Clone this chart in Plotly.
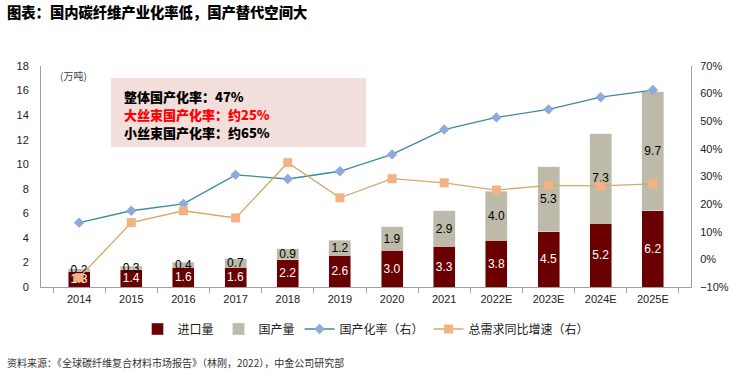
import plotly.graph_objects as go

categories = ["2014", "2015", "2016", "2017", "2018", "2019", "2020", "2021",
              "2022E", "2023E", "2024E", "2025E"]
imports = [1.3, 1.4, 1.6, 1.6, 2.2, 2.6, 3.0, 3.3, 3.8, 4.5, 5.2, 6.2]
domestic = [0.2, 0.3, 0.4, 0.7, 0.9, 1.2, 1.9, 2.9, 4.0, 5.3, 7.3, 9.7]
domestic_rate = [13.3, 17.6, 20.1, 30.6, 29.1, 31.9, 38.0, 47.0, 51.4, 54.3, 58.7, 61.3]
demand_growth = [-6.6, 13.3, 17.6, 15.0, 35.0, 22.3, 29.2, 27.7, 25.1, 26.8, 26.6, 27.3]

FONT = "Liberation Sans, Arial, Noto Sans CJK SC, sans-serif"
CJK = "Noto Sans CJK SC, sans-serif"

fig = go.Figure()
fig.add_trace(go.Bar(
    x=categories, y=imports, name="进口量", marker_color="#6B0000",
    text=[f"{v:.1f}" for v in imports], textposition="inside", textangle=0,
    insidetextanchor="middle", constraintext="none", cliponaxis=False,
    textfont=dict(color="white", size=12, family=FONT), width=0.42,
))
fig.add_trace(go.Bar(
    x=categories, y=domestic, name="国产量", marker_color="#BDBAA9",
    text=[f"{v:.1f}" for v in domestic], textposition="inside", textangle=0,
    insidetextanchor="middle", constraintext="none", cliponaxis=False,
    textfont=dict(color="black", size=12, family=FONT), width=0.42,
))
fig.add_trace(go.Scatter(
    x=categories, y=domestic_rate, name="国产化率（右）", yaxis="y2",
    mode="lines+markers", line=dict(color="#3E8AA0", width=1.3),
    marker=dict(symbol="diamond", size=8, color="#8EA9DB"),
))
fig.add_trace(go.Scatter(
    x=categories, y=demand_growth, name="总需求同比增速（右）", yaxis="y2",
    mode="lines+markers", line=dict(color="#D4A96A", width=1.3),
    marker=dict(symbol="square", size=9, color="#F4B183"),
))

fig.update_layout(
    width=733, height=370, barmode="stack",
    margin=dict(l=41, r=42, t=66, b=83, autoexpand=False),
    paper_bgcolor="white", plot_bgcolor="white",
    font=dict(family=FONT, size=11, color="#222"),
    showlegend=True,
    legend=dict(orientation="h", x=0.5, xanchor="center", y=-0.19, yanchor="middle",
                font=dict(family=CJK, size=12, color="#222"), traceorder="normal",
                itemwidth=30),
    xaxis=dict(type="category", showline=True, linecolor="#A0A0A0", ticks="outside",
               tickson="boundaries", ticklen=5, tickcolor="#A0A0A0",
               ticklabelstandoff=2,
               tickfont=dict(size=11, family=FONT), showgrid=False),
    yaxis=dict(range=[0, 18], dtick=2, showline=True, linecolor="#A0A0A0",
               showgrid=False, zeroline=False, ticks="", ticklabelstandoff=9,
               tickfont=dict(size=11, family=FONT)),
    yaxis2=dict(range=[-10, 70], dtick=10, ticksuffix="%", overlaying="y", side="right",
                showline=True, linecolor="#A0A0A0", showgrid=False, zeroline=False,
                ticks="", ticklabelstandoff=6, tickfont=dict(size=11, family=FONT)),
    shapes=[dict(type="rect", xref="paper", yref="paper", x0=0.1077, x1=0.5,
                 y0=0.6335, y1=0.9457, fillcolor="#F2DEDB", line=dict(width=0),
                 layer="below")],
)

def ann(text, x, y, color="black", size=13, weight=900, xanchor="left", family=CJK):
    fig.add_annotation(text=text, x=x, y=y, xref="paper", yref="paper", showarrow=False,
                       xanchor=xanchor, yanchor="middle",
                       font=dict(family=family, size=size, color=color, weight=weight))

ann("整体国产化率：47%", 0.1246, 0.862)
ann("大丝束国产化率：约25%", 0.1246, 0.7805, color="#FF0000")
ann("小丝束国产化率：约65%", 0.1246, 0.699)
ann("(万吨)", 0.05, 0.955, size=10, weight=400, color="#444", xanchor="center")
ann("图表：国内碳纤维产业化率低，国产替代空间大", (5 - 41) / 650, (287 - 12) / 221,
    size=14.3, weight=900)
ann("资料来源：《全球碳纤维复合材料市场报告》（林刚，2022），中金公司研究部",
    (5 - 41) / 650, (287 - 362) / 221, size=10, weight=400, color="#333")

fig.write_html("out.html", config={"displayModeBar": False},
               post_script="document.body.style.margin='0';document.body.style.overflow='hidden';")
